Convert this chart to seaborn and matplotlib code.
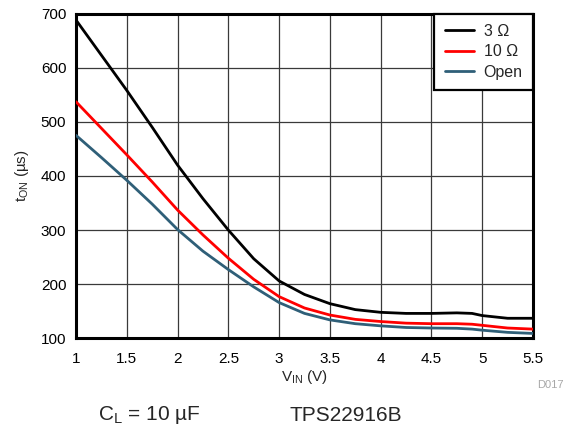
import numpy as np
import pandas as pd
import matplotlib
matplotlib.use("Agg")
import matplotlib.pyplot as plt
import seaborn as sns

# Supply voltage sweep (V)
vin = [1.0, 1.25, 1.5, 1.75, 2.0, 2.25, 2.5, 2.75, 3.0, 3.25, 3.5, 3.75,
       4.0, 4.25, 4.5, 4.75, 4.9, 5.0, 5.25, 5.5]

# Turn-on time (us) for each load
t_on_3ohm = [688, 623, 558, 490, 420, 358, 300, 247, 206, 181, 164, 153,
             148, 146, 146, 147, 146, 142, 137, 137]
t_on_10ohm = [537, 488, 439, 389, 337, 291, 248, 209, 177, 156, 143, 135,
              131, 128, 127, 127, 126, 124, 119, 117]
t_on_open = [475, 434, 392, 348, 301, 261, 227, 195, 166, 146, 134, 127,
             123, 120, 119, 118.5, 117, 115, 111, 109]

loads = ["3 Ω", "10 Ω", "Open"]
colors = ["#000000", "#ff0000", "#2f5f78"]

x_ticks = [1, 1.5, 2, 2.5, 3, 3.5, 4, 4.5, 5, 5.5]
x_tick_labels = ["1", "1.5", "2", "2.5", "3", "3.5", "4", "4.5", "5", "5.5"]
y_ticks = [100, 200, 300, 400, 500, 600, 700]

df = pd.DataFrame({
    "vin": vin * 3,
    "t_on": t_on_3ohm + t_on_10ohm + t_on_open,
    "load": [loads[0]] * len(vin) + [loads[1]] * len(vin) + [loads[2]] * len(vin),
})

sns.set_style("white")
plt.rcParams["font.family"] = ["Liberation Sans", "DejaVu Sans"]
plt.rcParams["mathtext.fontset"] = "custom"
plt.rcParams["mathtext.rm"] = "Liberation Sans"
plt.rcParams["mathtext.it"] = "Liberation Sans"

fig = plt.figure(figsize=(5.65, 4.29), dpi=100)
ax = fig.add_axes([0.1345, 0.2114, 0.9434 - 0.1345, 0.9685 - 0.2114])

sns.lineplot(data=df, x="vin", y="t_on", hue="load", hue_order=loads,
             palette=colors, linewidth=2.0, ax=ax, zorder=3)

ax.set_xlim(1, 5.5)
ax.set_ylim(100, 700)
ax.set_xticks(x_ticks)
ax.set_xticklabels(x_tick_labels)
ax.set_yticks(y_ticks)
ax.grid(True, color="#3a3a3a", linewidth=0.9)
ax.tick_params(axis="both", length=0, labelsize=11, colors="black")
ax.tick_params(axis="x", pad=10)
ax.tick_params(axis="y", pad=7)
for s in ax.spines.values():
    s.set_visible(True)
    s.set_color("black")
    s.set_linewidth(2.2)

ax.set_xlabel("V$_{\\mathrm{IN}}$ (V)", fontsize=11, labelpad=1)
ax.set_ylabel("t$_{\\mathrm{ON}}$ (µs)", fontsize=11, labelpad=7)

leg = ax.legend(loc="upper right", fontsize=11.5, frameon=True, fancybox=False,
                borderaxespad=0, handlelength=1.85, handletextpad=0.6,
                labelspacing=0.35, borderpad=0.65)
leg.get_frame().set_edgecolor("black")
leg.get_frame().set_linewidth(1.6)
leg.get_frame().set_alpha(1)

fig.text(537 / 565, 1 - 385 / 429, "D017", fontsize=8, color="#a8a8a8",
         ha="left", va="center")
fig.text(98 / 565, 1 - 415.5 / 429, "C$_{\\mathrm{L}}$ = 10 µF", fontsize=15,
         ha="left", va="center")
fig.text(289 / 565, 1 - 415.5 / 429, "TPS22916B", fontsize=15,
         ha="left", va="center")

fig.savefig("out.png", dpi=100)
